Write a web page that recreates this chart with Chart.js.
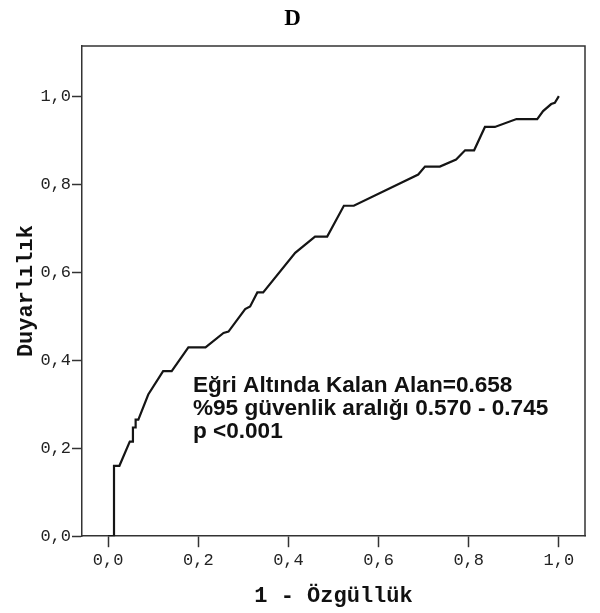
<!DOCTYPE html>
<html><head><meta charset="utf-8">
<script src="https://cdn.jsdelivr.net/npm/chart.js@4"></script>
<style>html,body{margin:0;padding:0;background:#fff}#wrap{width:600px;height:613px}</style>
</head><body><div id="wrap"><canvas id="c" width="600" height="613"></canvas></div>
<script>
const chartTitle = "D";
const xAxisTitle = "1 - Özgüllük";
const yAxisTitle = "Duyarlılık";
const fpr = [0, 0.013, 0.013, 0.025, 0.048, 0.055, 0.055, 0.061, 0.061, 0.067, 0.089, 0.122, 0.141, 0.178, 0.216, 0.256, 0.267, 0.304, 0.315, 0.331, 0.344, 0.415, 0.459, 0.486, 0.523, 0.545, 0.688, 0.703, 0.736, 0.772, 0.792, 0.812, 0.836, 0.858, 0.906, 0.952, 0.965, 0.983, 0.991, 1.000];
const tpr = [0, 0, 0.160, 0.160, 0.215, 0.215, 0.247, 0.247, 0.265, 0.265, 0.322, 0.375, 0.375, 0.429, 0.429, 0.462, 0.465, 0.516, 0.522, 0.554, 0.554, 0.644, 0.681, 0.681, 0.751, 0.751, 0.822, 0.840, 0.840, 0.856, 0.877, 0.877, 0.930, 0.930, 0.948, 0.948, 0.966, 0.982, 0.985, 1.000];
const xTickValues = [0, 0.2, 0.4, 0.6, 0.8, 1.0];
const xTickLabels = ["0,0", "0,2", "0,4", "0,6", "0,8", "1,0"];
const yTickValues = [0, 0.2, 0.4, 0.6, 0.8, 1.0];
const yTickLabels = ["0,0", "0,2", "0,4", "0,6", "0,8", "1,0"];
const annotationLines = ["Eğri Altında Kalan Alan=0.658", "%95 güvenlik aralığı 0.570 - 0.745", "p <0.001"];
const annotationAnchor = [0.188, 0.328];

const monoTick = {family: "'Liberation Mono', 'DejaVu Sans Mono', monospace", size: 17};
const monoTitle = {family: "'Liberation Mono', 'DejaVu Sans Mono', monospace", size: 22, weight: 'bold'};

const framePlugin = {
  id: 'frame',
  afterDatasetsDraw(chart) {
    const {ctx, chartArea: a} = chart;
    ctx.save();
    ctx.strokeStyle = '#333';
    ctx.lineWidth = 1.5;
    ctx.beginPath();
    ctx.moveTo(a.left, a.top);
    ctx.lineTo(a.right, a.top);
    ctx.lineTo(a.right, a.bottom);
    ctx.stroke();
    ctx.restore();
  }
};
const annotationPlugin = {
  id: 'aucText',
  afterDraw(chart) {
    const {ctx, scales} = chart;
    const x = scales.x.getPixelForValue(annotationAnchor[0]);
    const y = scales.y.getPixelForValue(annotationAnchor[1]);
    ctx.save();
    ctx.font = "bold 22.6px 'Liberation Sans', Arial, sans-serif";
    ctx.fillStyle = '#111';
    ctx.textBaseline = 'alphabetic';
    ctx.textAlign = 'left';
    annotationLines.forEach((t, i) => ctx.fillText(t, x, y + i * 23));
    ctx.restore();
  }
};

new Chart(document.getElementById('c'), {
  type: 'scatter',
  data: {
    datasets: [{
      data: fpr.map((x, i) => ({x: x, y: tpr[i]})),
      showLine: true,
      borderColor: '#151515',
      borderWidth: 2.2,
      pointRadius: 0,
      pointHoverRadius: 0,
      fill: false,
      tension: 0
    }]
  },
  options: {
    responsive: false,
    animation: false,
    devicePixelRatio: 1,
    layout: {padding: {left: 0, right: 15, top: 0, bottom: 3}},
    plugins: {
      legend: {display: false},
      tooltip: {enabled: false},
      title: {
        display: true,
        text: chartTitle,
        color: '#000',
        font: {family: "'Liberation Serif', 'Times New Roman', serif", size: 23, weight: 'bold'},
        padding: {top: 5, bottom: 13.4}
      }
    },
    scales: {
      x: {
        type: 'linear',
        min: -0.058,
        max: 1.058,
        afterBuildTicks: (s) => { s.ticks = xTickValues.map(v => ({value: v})); },
        ticks: {
          callback: (v, i) => xTickLabels[i],
          font: monoTick, color: '#222', padding: 3, maxRotation: 0, autoSkip: false
        },
        grid: {display: true, drawOnChartArea: false, drawTicks: true, tickLength: 11, tickColor: '#333', tickWidth: 1.5},
        border: {display: true, color: '#333', width: 1.5},
        title: {display: true, text: xAxisTitle, font: monoTitle, color: '#111', padding: {top: 10, bottom: 0}}
      },
      y: {
        type: 'linear',
        min: 0,
        max: 1.114,
        afterBuildTicks: (s) => { s.ticks = yTickValues.map(v => ({value: v})); },
        ticks: {
          callback: (v, i) => yTickLabels[i],
          font: monoTick, color: '#222', padding: 1, autoSkip: false
        },
        grid: {display: true, drawOnChartArea: false, drawTicks: true, tickLength: 10, tickColor: '#333', tickWidth: 1.5},
        border: {display: true, color: '#333', width: 1.5},
        title: {display: true, text: yAxisTitle, font: monoTitle, color: '#111', padding: {top: 13, bottom: 0}}
      }
    }
  },
  plugins: [framePlugin, annotationPlugin]
});
</script></body></html>
